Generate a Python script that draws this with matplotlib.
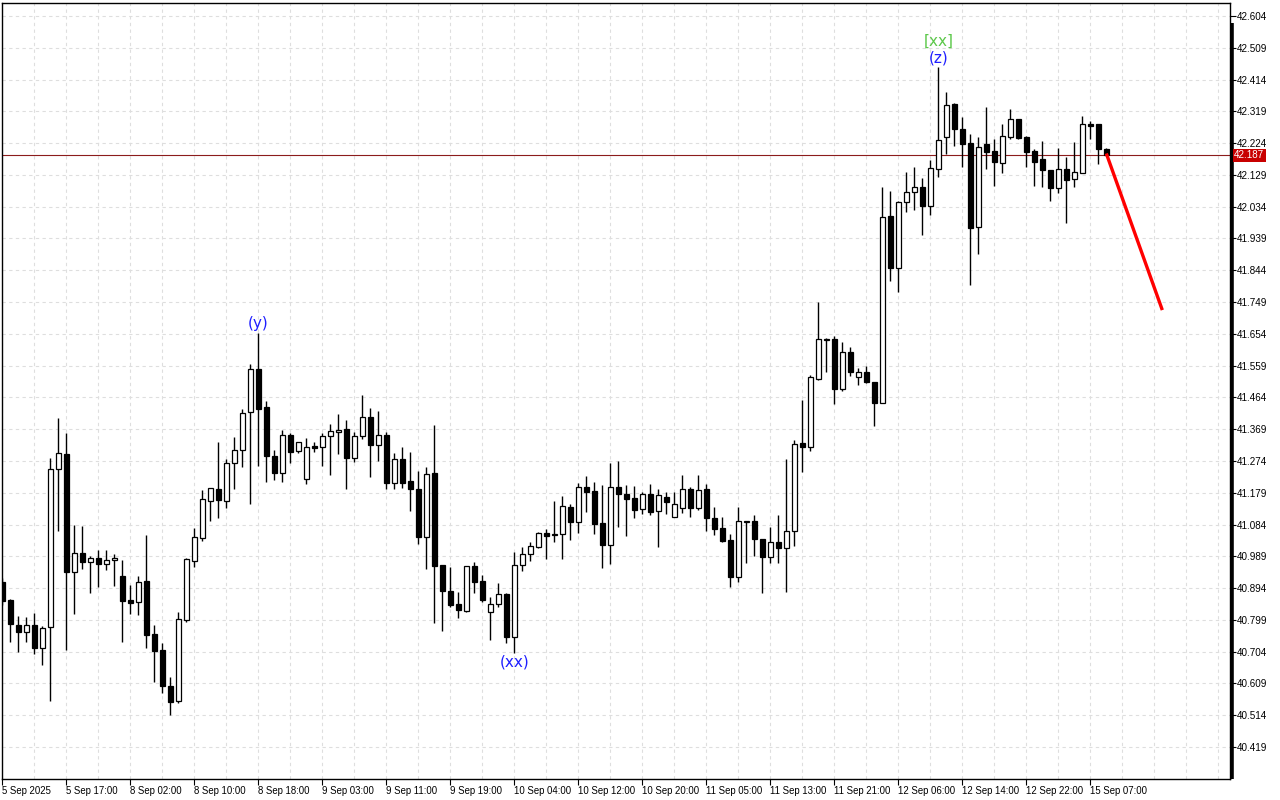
import numpy as np
import matplotlib
matplotlib.use("Agg")
from matplotlib import pyplot as plt
from matplotlib import transforms

# hourly candles, 5 Sep 2025 09:00 ... 15 Sep 2025
opens = [40.911, 40.858, 40.784, 40.764, 40.784, 40.716, 40.777, 41.249, 41.295, 40.943,
         40.998, 40.973, 40.984, 40.965, 40.977, 40.930, 40.858, 40.851, 40.914, 40.757,
         40.709, 40.601, 40.557, 40.799, 40.974, 41.045, 41.155, 41.190, 41.155, 41.267,
         41.306, 41.419, 41.548, 41.434, 41.289, 41.239, 41.351, 41.303, 41.219, 41.318,
         41.315, 41.348, 41.360, 41.369, 41.284, 41.348, 41.405, 41.321, 41.351, 41.207,
         41.279, 41.214, 41.189, 41.046, 41.237, 40.963, 40.884, 40.846, 40.826, 40.959,
         40.914, 40.823, 40.846, 40.876, 40.749, 40.962, 40.995, 41.018, 41.058, 41.052,
         41.057, 41.135, 41.092, 41.197, 41.184, 41.089, 41.022, 41.195, 41.174, 41.162,
         41.130, 41.176, 41.123, 41.166, 41.106, 41.134, 41.190, 41.134, 41.190, 41.104,
         41.074, 41.038, 40.926, 41.092, 41.094, 41.040, 40.988, 41.031, 41.013, 41.065,
         41.327, 41.317, 41.519, 41.636, 41.638, 41.490, 41.599, 41.524, 41.540, 41.510,
         41.446, 42.006, 41.850, 42.047, 42.077, 42.093, 42.037, 42.146, 42.241, 42.341,
         42.266, 42.224, 41.974, 42.221, 42.200, 42.164, 42.243, 42.295, 42.242, 42.200,
         42.177, 42.144, 42.091, 42.147, 42.116, 42.136, 42.281, 42.281, 42.206]
highs = [40.924, 40.860, 40.811, 40.808, 40.820, 40.782, 41.282, 41.401, 41.358, 41.083,
         41.081, 40.990, 41.008, 41.008, 40.996, 40.977, 40.903, 40.930, 41.053, 40.784,
         40.731, 40.627, 40.822, 40.984, 41.073, 41.187, 41.192, 41.331, 41.280, 41.346,
         41.429, 41.564, 41.657, 41.453, 41.307, 41.367, 41.357, 41.330, 41.343, 41.330,
         41.359, 41.385, 41.414, 41.396, 41.360, 41.471, 41.431, 41.423, 41.360, 41.298,
         41.315, 41.301, 41.244, 41.256, 41.382, 40.963, 40.957, 40.882, 40.959, 40.972,
         40.933, 40.867, 40.909, 40.880, 41.001, 41.017, 41.033, 41.062, 41.072, 41.154,
         41.169, 41.145, 41.209, 41.229, 41.210, 41.202, 41.268, 41.274, 41.202, 41.199,
         41.180, 41.206, 41.190, 41.181, 41.180, 41.232, 41.196, 41.232, 41.206, 41.136,
         41.106, 41.055, 41.136, 41.096, 41.112, 41.040, 41.077, 41.113, 41.280, 41.337,
         41.456, 41.531, 41.748, 41.642, 41.648, 41.629, 41.614, 41.552, 41.558, 41.510,
         42.094, 42.081, 42.052, 42.137, 42.154, 42.120, 42.174, 42.451, 42.377, 42.345,
         42.301, 42.250, 42.243, 42.332, 42.236, 42.281, 42.326, 42.295, 42.245, 42.206,
         42.229, 42.144, 42.209, 42.183, 42.227, 42.305, 42.290, 42.281, 42.210]
lows = [40.844, 40.734, 40.704, 40.732, 40.698, 40.664, 40.557, 41.066, 40.710, 40.817,
        40.951, 40.879, 40.898, 40.949, 40.901, 40.734, 40.817, 40.814, 40.715, 40.614,
        40.581, 40.515, 40.551, 40.794, 40.956, 41.036, 41.095, 41.104, 41.134, 41.191,
        41.257, 41.146, 41.260, 41.212, 41.217, 41.212, 41.269, 41.299, 41.206, 41.302,
        41.258, 41.233, 41.296, 41.191, 41.272, 41.341, 41.227, 41.275, 41.189, 41.191,
        41.194, 41.125, 41.027, 40.952, 40.789, 40.767, 40.837, 40.806, 40.823, 40.880,
        40.851, 40.739, 40.837, 40.731, 40.699, 40.946, 40.976, 41.014, 40.982, 41.033,
        40.982, 41.039, 41.060, 41.122, 41.056, 40.953, 40.967, 41.078, 41.051, 41.104,
        41.115, 41.112, 41.018, 41.115, 41.106, 41.119, 41.107, 41.128, 41.066, 41.054,
        41.033, 40.896, 40.913, 40.968, 40.991, 40.880, 40.968, 40.968, 40.883, 41.021,
        41.242, 41.305, 41.516, 41.541, 41.445, 41.484, 41.529, 41.502, 41.507, 41.379,
        41.446, 41.813, 41.780, 42.019, 42.024, 41.950, 42.010, 42.124, 42.192, 42.215,
        42.154, 41.800, 41.893, 42.148, 42.097, 42.135, 42.236, 42.237, 42.152, 42.097,
        42.094, 42.052, 42.076, 41.986, 42.094, 42.134, 42.237, 42.161, 42.187]
closes = [40.856, 40.786, 40.764, 40.784, 40.716, 40.774, 41.249, 41.297, 40.943, 40.998,
          40.973, 40.983, 40.967, 40.977, 40.984, 40.856, 40.850, 40.911, 40.755, 40.707,
          40.602, 40.554, 40.801, 40.981, 41.046, 41.159, 41.192, 41.158, 41.267, 41.306,
          41.416, 41.548, 41.430, 41.290, 41.239, 41.351, 41.302, 41.330, 41.315, 41.314,
          41.348, 41.363, 41.366, 41.284, 41.348, 41.405, 41.321, 41.351, 41.207, 41.279,
          41.209, 41.189, 41.046, 41.234, 40.961, 40.884, 40.844, 40.829, 40.959, 40.913,
          40.859, 40.846, 40.875, 40.749, 40.962, 40.995, 41.020, 41.058, 41.051, 41.057,
          41.138, 41.092, 41.195, 41.182, 41.086, 41.022, 41.195, 41.174, 41.161, 41.128,
          41.176, 41.122, 41.172, 41.150, 41.145, 41.189, 41.134, 41.186, 41.104, 41.072,
          41.036, 40.928, 41.095, 41.095, 41.040, 40.988, 41.031, 41.013, 41.065, 41.324,
          41.317, 41.524, 41.638, 41.638, 41.490, 41.599, 41.541, 41.539, 41.511, 41.448,
          42.002, 41.852, 42.047, 42.077, 42.093, 42.037, 42.149, 42.232, 42.337, 42.267,
          42.222, 41.971, 42.212, 42.198, 42.167, 42.244, 42.295, 42.240, 42.198, 42.167,
          42.143, 42.091, 42.146, 42.115, 42.138, 42.281, 42.274, 42.206, 42.187]

time_labels = ["5 Sep 2025", "5 Sep 17:00", "8 Sep 02:00", "8 Sep 10:00", "8 Sep 18:00",
               "9 Sep 03:00", "9 Sep 11:00", "9 Sep 19:00", "10 Sep 04:00", "10 Sep 12:00",
               "10 Sep 20:00", "11 Sep 05:00", "11 Sep 13:00", "11 Sep 21:00", "12 Sep 06:00",
               "12 Sep 14:00", "12 Sep 22:00", "15 Sep 07:00"]
price_ticks = [42.604, 42.509, 42.414, 42.319, 42.224, 42.129, 42.034, 41.939, 41.844,
               41.749, 41.654, 41.559, 41.464, 41.369, 41.274, 41.179, 41.084, 40.989,
               40.894, 40.799, 40.704, 40.609, 40.514, 40.419]
last_price = 42.187

# wave marks: (candle index, text, colour, above/below)
wave_marks = [(32, "(y)", "#1f1fff", 1), (64, "(xx)", "#1f1fff", -1),
              (117, "(z)", "#1f1fff", 1)]
# forecast line
fc_x = [138, 145]
fc_y = [42.193, 41.725]

o = np.array(opens); h = np.array(highs); l = np.array(lows); c = np.array(closes)
x = np.arange(len(o))

fig = plt.figure(figsize=(12.8, 8), dpi=100)
ax = fig.add_axes([2/1280, 21/800, 1228/1280, 776/800])
ax.set_xlim(-0.04, 153.46)
ax.set_ylim(40.3234, 42.6428)

# grid
ax.set_yticks(price_ticks)
ax.set_xticks(np.arange(0, len(time_labels) * 8, 8))
ax.set_xticks(np.arange(0, 154, 4), minor=True)
ax.grid(True, which="both", ls=(0, (3, 3)), color="#dedede", lw=0.8)
ax.set_axisbelow(True)

# candles
ax.vlines(x, l, h, color="black", lw=1.0, zorder=2)
up = c >= o
bottoms = np.minimum(o, c)
heights = np.maximum(np.abs(c - o), 0.0015)
ax.bar(x, heights, bottom=bottoms, width=0.55,
       color=np.where(up, "white", "black"), edgecolor="black", lw=0.9, zorder=3)

ax.axhline(last_price, color="#8c1c1c", lw=0.8, zorder=1)
ax.plot(fc_x, fc_y, color="#ff0000", lw=2.4, zorder=4, solid_capstyle="butt")

for i, txt, col, side in wave_marks:
    yv = h[i] if side > 0 else l[i]
    ax.annotate(txt, (i, yv), xytext=(0, 9 * side), textcoords="offset pixels",
                ha="center", va="center", color=col, fontsize=11)
ax.annotate("[xx]", (117, h[117]), xytext=(0, 26), textcoords="offset pixels",
            ha="center", va="center", color="#5cc84a", fontsize=11)

# axes styling
for s in ax.spines.values():
    s.set_color("black")
    s.set_linewidth(1.0)
ax.plot([1.0016, 1.0016], [0, 756/776], transform=ax.transAxes, color="black",
        lw=2.6, clip_on=False, solid_capstyle="butt")

ax.yaxis.tick_right()
ax.set_yticklabels(["%.3f" % v for v in price_ticks])
ax.tick_params(axis="y", which="major", length=4, width=0.8, pad=1,
               labelsize=7.1, colors="black")
ax.set_xticklabels(time_labels, ha="left")
ax.tick_params(axis="x", which="major", length=4, width=0.8, pad=1, labelsize=6.9)
ax.tick_params(axis="x", which="minor", length=0)
for t in ax.get_xticklabels() + ax.get_yticklabels():
    t.set_family("Liberation Sans")

trans = transforms.blended_transform_factory(ax.transAxes, ax.transData)
ax.text(1.0035, last_price, "%.3f" % last_price, transform=trans, ha="left",
        va="center", color="white", fontsize=7.1, family="Liberation Sans",
        bbox=dict(boxstyle="square,pad=0.15", fc="#c80000", ec="none"), zorder=10)

fig.savefig("out.png", dpi=100)
